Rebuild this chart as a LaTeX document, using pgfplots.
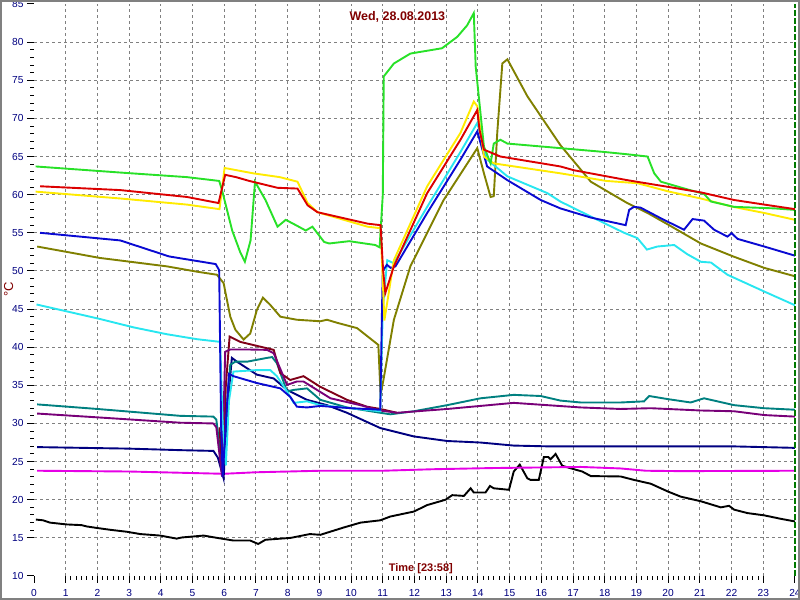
\documentclass[border=0pt]{standalone}
\usepackage{pgfplots}
\pgfplotsset{compat=1.18}
\usepackage{fontspec}
\setmainfont{Liberation Sans}
\definecolor{cgreen}{RGB}{40,225,40}
\definecolor{cred}{RGB}{220,0,0}
\definecolor{cyellow}{RGB}{255,235,0}
\definecolor{cblue}{RGB}{10,10,210}
\definecolor{colive}{RGB}{128,128,0}
\definecolor{ccyan}{RGB}{40,230,240}
\definecolor{cmaroon}{RGB}{128,0,24}
\definecolor{cpurple}{RGB}{120,0,120}
\definecolor{cteal}{RGB}{0,128,128}
\definecolor{cnavy}{RGB}{0,0,128}
\definecolor{cmagenta}{RGB}{230,0,230}
\definecolor{ctext}{RGB}{128,0,0}
\definecolor{cdkgreen}{RGB}{0,120,0}
\begin{document}
\begin{tikzpicture}
\begin{axis}[
  at={(17pt,12pt)}, anchor=south west,
  scale only axis, width=380.5pt, height=286pt,
  xmin=0, xmax=24, ymin=10, ymax=85,
  xtick={1,...,23}, ytick={15,20,...,80},
  extra x ticks={0,24}, extra y ticks={10,85},
  extra tick style={grid=none},
  minor x tick num=5, minor y tick num=4,
  tick align=outside, tick pos=left,
  major tick length=3.5pt, minor tick length=2pt,
  axis line style={draw=none},
  grid=major,
  major grid style={dash pattern=on 1.5pt off 1.5pt, color=gray, line width=0.5pt},
  tick style={black, line width=0.5pt},
  ticklabel style={font=\fontsize{5.1}{6}\selectfont, text=cnavy},
  yticklabel style={xshift=1.8pt},
  xticklabel style={yshift=0.5pt},
  /pgf/number format/assume math mode=true,
  every axis plot/.append style={line width=0.95pt},
  clip=false,
]
% black
\addplot[black] coordinates {(0.06,17.4)(0.29,17.3)(0.5,17.0)(1.03,16.76)(1.5,16.67)(1.66,16.5)(1.98,16.3)(2.4,16.06)(2.93,15.8)(3.35,15.5)(3.98,15.3)(4.5,14.9)(4.66,15.05)(5.35,15.3)(5.77,15.0)(6.29,14.65)(6.82,14.65)(7.07,14.2)(7.3,14.75)(8.1,15.0)(8.7,15.5)(9.03,15.4)(9.8,16.4)(10.3,17.0)(10.92,17.3)(11.24,17.8)(11.98,18.45)(12.4,19.3)(12.98,20.0)(13.19,20.6)(13.56,20.5)(13.77,21.5)(13.87,20.95)(14.24,20.95)(14.38,21.8)(14.5,21.5)(14.98,21.3)(15.13,23.7)(15.32,24.6)(15.56,22.8)(15.66,22.6)(15.92,22.6)(16.08,25.6)(16.22,25.6)(16.29,25.3)(16.45,26.0)(16.66,24.45)(17.03,24.0)(17.29,23.7)(17.56,23.1)(18.5,23.05)(18.92,22.6)(19.45,22.1)(19.98,21.1)(20.4,20.4)(21.03,19.8)(21.66,19.0)(21.92,19.2)(22.08,18.7)(22.5,18.25)(23.03,17.95)(23.55,17.5)(24,17.15)};
% magenta
\addplot[cmagenta] coordinates {(0.1,23.8)(3,23.7)(5.98,23.4)(7,23.6)(9.03,23.8)(11,23.8)(12.6,24.0)(14.4,24.15)(17.24,24.3)(18.5,24.1)(19.3,23.8)(20.4,23.75)(24,23.8)};
% navy
\addplot[cnavy] coordinates {(0.1,26.9)(3,26.7)(4.61,26.5)(5.66,26.4)(5.8,25.5)(5.98,22.8)(6.1,32)(6.24,38.6)(6.4,38.1)(7.03,36.4)(7.56,35.9)(7.98,34.4)(8.61,33.1)(9.24,32.4)(9.87,31.4)(10.92,29.4)(11.98,28.3)(13.03,27.7)(14.08,27.5)(15.13,27.1)(16.19,27.0)(18,27.0)(20,27.0)(22,27.0)(24,26.8)};
% teal
\addplot[cteal] coordinates {(0.1,32.5)(2,31.9)(4.61,31.0)(5.66,30.9)(5.75,30.5)(5.93,24.4)(6.19,37.7)(6.35,38.1)(6.72,38.1)(7.35,38.6)(7.51,38.7)(7.66,37.9)(7.98,34.2)(8.19,34.4)(8.61,34.6)(9.03,33.1)(9.87,32.1)(10.92,31.4)(11.24,31.2)(11.98,31.6)(13.03,32.4)(14.08,33.3)(15.13,33.75)(15.98,33.6)(16.6,33.0)(17.24,32.75)(18.5,32.75)(19.24,32.9)(19.4,33.6)(19.98,33.2)(20.71,32.75)(21.13,33.3)(22.08,32.4)(23.03,32.0)(24,31.8)};
% maroon
\addplot[cmaroon] coordinates {(5.85,29.5)(5.95,23.0)(6.05,35)(6.17,41.4)(6.5,40.7)(7.56,39.65)(7.77,36.6)(8.08,35.7)(8.5,36.2)(9.03,34.8)(9.87,33.1)(10.5,32.2)(10.92,31.9)(11.45,31.4)};
% purple
\addplot[cpurple] coordinates {(0.1,31.3)(2,30.8)(4.61,30.1)(5.66,30.0)(5.75,29.5)(5.93,23.05)(6.03,39.4)(6.19,39.7)(6.72,39.7)(7.35,39.65)(7.56,39.2)(7.98,35.06)(8.29,35.5)(8.5,35.5)(9.35,33.3)(10.29,32.4)(10.92,31.7)(11.45,31.4)(13.03,31.9)(14.08,32.3)(15.13,32.7)(16.19,32.4)(17.24,32.1)(18.5,31.9)(19.45,32.0)(21.03,31.7)(22.08,31.6)(23.03,31.1)(24,30.9)};
% olive
\addplot[colive] coordinates {(0.1,53.2)(2.08,51.7)(4.19,50.6)(5.14,49.9)(5.77,49.5)(5.98,48.4)(6.19,44.0)(6.35,42.3)(6.61,41.0)(6.82,41.8)(7.03,44.9)(7.22,46.5)(7.45,45.55)(7.77,44.0)(8.29,43.6)(9.03,43.4)(9.24,43.6)(9.56,43.2)(10.19,42.5)(10.86,40.3)(10.93,33.75)(11.02,35.7)(11.35,43.6)(11.87,50.6)(12.92,59.3)(13.98,66.1)(14.19,62.8)(14.4,59.7)(14.5,59.8)(14.61,68.1)(14.77,77.2)(14.93,77.75)(15.56,72.9)(16.6,66.5)(17.56,61.7)(18.71,58.9)(19.35,57.6)(20.03,56.0)(21.03,53.6)(22.05,51.9)(23.03,50.4)(24,49.3)};
% cyan
\addplot[ccyan] coordinates {(0.08,45.6)(1.03,44.7)(2.08,43.7)(3.14,42.6)(4.19,41.7)(5.14,41.05)(5.87,40.7)(5.95,30)(6.05,24.5)(6.15,33)(6.29,36.8)(7.03,37.0)(7.45,37.0)(7.66,36.2)(7.98,34.2)(8.19,32.7)(8.61,32.9)(9.03,32.4)(10.92,31.6)(11.0,45)(11.14,51.4)(11.35,51.0)(12.4,58.4)(13.45,65.6)(13.98,69.4)(14.29,64.6)(14.93,62.4)(16.19,60.2)(16.6,59.1)(17.87,56.5)(18.61,55.0)(19.03,54.3)(19.33,52.8)(19.66,53.2)(20.19,53.4)(20.6,52.2)(21.03,51.2)(21.35,51.1)(21.87,49.5)(23.03,47.3)(24,45.5)};
% blue
\addplot[cblue] coordinates {(0.19,55.0)(2.72,54.0)(4.26,51.9)(5.73,50.9)(5.84,50.1)(5.9,30)(5.95,23.0)(6.05,30)(6.15,36.5)(6.29,36.2)(7.03,35.3)(7.77,34.6)(8.08,33.5)(8.29,32.2)(8.61,32.1)(9.03,32.3)(10,32.0)(10.92,31.8)(10.98,46)(11.0,50.0)(11.13,50.8)(11.25,50.4)(11.4,50.6)(12.4,57.6)(13.45,64.6)(13.98,68.3)(14.29,63.7)(14.93,61.9)(15.98,59.3)(16.6,58.2)(17.56,57.0)(18.66,56.0)(18.77,58.0)(18.92,58.4)(19.13,58.3)(19.77,56.9)(20.5,55.4)(20.77,56.8)(21.13,56.6)(21.45,55.4)(21.87,54.5)(22.0,54.95)(22.19,54.2)(23.03,53.2)(24,52.0)};
% yellow
\addplot[cyellow] coordinates {(0.05,60.4)(2.72,59.5)(4.82,58.7)(5.85,58.1)(6.01,63.5)(6.91,62.8)(7.75,62.3)(8.31,61.7)(8.63,58.9)(8.94,57.7)(10.52,55.8)(10.93,55.6)(11.0,48.8)(11.05,43.5)(11.35,51.4)(12.4,61.1)(13.45,68.1)(13.87,72.2)(13.98,71.6)(14.19,65.0)(14.5,64.1)(16.6,62.8)(18.05,61.8)(19.03,61.5)(20.03,60.4)(21.03,59.5)(22.05,58.4)(23.03,57.6)(24,56.7)};
% green
\addplot[cgreen] coordinates {(0.05,63.7)(2.72,62.9)(4.82,62.3)(5.84,61.8)(5.93,60.6)(6.25,55.3)(6.5,52.5)(6.65,51.2)(6.83,54)(6.97,61.7)(7.3,59.3)(7.68,55.8)(7.94,56.7)(8.26,56)(8.57,55.3)(8.78,55.8)(9.15,53.8)(9.31,53.6)(9.94,53.9)(10.76,53.4)(10.9,53.1)(11.0,60)(11.03,75.5)(11.35,77.2)(11.87,78.5)(12.87,79.2)(13.35,80.7)(13.66,82.2)(13.87,83.8)(13.93,76.8)(14.19,66.3)(14.4,64.1)(14.5,66.7)(14.71,67.2)(14.93,66.7)(16.6,66.1)(17.98,65.6)(18.7,65.3)(19.35,65.0)(19.56,62.8)(19.77,61.7)(20.6,60.7)(21.13,60.1)(21.35,59.1)(22.08,58.4)(23.35,58.2)(24,58.0)};
% red
\addplot[cred] coordinates {(0.19,61.1)(2.72,60.6)(4.82,59.7)(5.82,58.9)(6.03,62.6)(6.37,62.3)(6.79,61.8)(7.68,60.9)(8.31,60.8)(8.63,58.6)(8.94,57.7)(10.52,56.2)(10.93,56.0)(11.01,50.1)(11.08,47.1)(11.35,50.6)(12.4,60.2)(13.45,67.2)(13.98,71.1)(14.05,68.5)(14.19,65.9)(14.71,65.0)(16.6,63.7)(17.03,63.2)(18.71,61.9)(20.03,61.0)(21.03,60.3)(22.08,59.3)(23.03,58.7)(24,58.1)};
% current time marker
\addplot[cdkgreen, line width=0.6pt, dash pattern=on 3pt off 1pt] coordinates {(24,10)(24,85)};
\node[font=\bfseries\fontsize{6.25}{7}\selectfont, text=ctext] at (axis cs:11.46,83.3) {Wed, 28.08.2013};
\node[font=\bfseries\fontsize{5.5}{6}\selectfont, text=ctext] at (axis cs:12.2,10.95) {Time [23:58]};
\node[rotate=90, font=\fontsize{6.5}{7}\selectfont, text=ctext] at (axis cs:-0.8,47.6) {°C};
\end{axis}
\draw[draw=gray, line width=1pt] (0.5pt,0.5pt) rectangle (399.5pt,299.5pt);
\pgfresetboundingbox
\useasboundingbox (0,0) rectangle (400pt,300pt);
\end{tikzpicture}
\end{document}
